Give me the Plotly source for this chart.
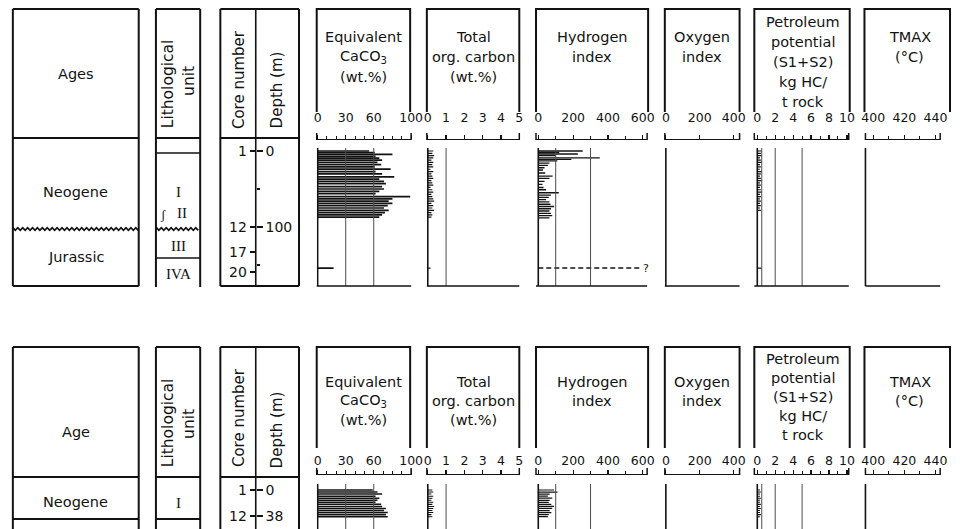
import numpy as np
import plotly.graph_objects as go

# ================= DATA =================
# ---- upper section ----
top_caco3_depth = [0, 2, 4.5, 7, 9.5, 12, 15, 18, 21, 24, 27, 30, 34, 37, 40, 43, 47, 50, 53, 56,
                   60, 63, 66, 69, 72, 75, 78, 81, 84, 87, 154]
top_caco3 = [55, 61, 80, 62, 66, 69, 64, 68, 61, 78, 62, 69, 82, 66, 71, 73, 69, 71, 66, 62,
             99, 80, 76, 80, 75, 71, 76, 72, 69, 66, 17]

top_toc_depth = [0, 3, 6, 9, 12, 15, 18, 21, 24, 27, 30, 33, 36, 39, 42, 45, 48, 51, 54, 57,
                 60, 63, 66, 69, 72, 75, 78, 81, 84, 87, 154]
top_toc = [0.3, 0.25, 0.35, 0.3, 0.2, 0.3, 0.25, 0.3, 0.15, 0.3, 0.2, 0.25, 0.3, 0.2, 0.25, 0.3,
           0.15, 0.25, 0.3, 0.2, 0.25, 0.3, 0.35, 0.2, 0.3, 0.25, 0.35, 0.2, 0.25, 0.2, 0.15]

top_hi_depth = [0, 2, 4, 6, 9, 11, 13, 16, 19, 22, 25, 29, 33, 36, 40, 44, 48, 51, 55, 58,
                61, 64, 67, 70, 73, 76, 79, 82, 85, 88]
top_hi = [255, 120, 227, 100, 353, 190, 109, 64, 55, 36, 27, 40, 82, 64, 36, 24, 30, 45, 118, 73,
          60, 45, 64, 70, 91, 73, 64, 73, 80, 64]
top_hi_uncertain_depth = 154   # dashed "?" level
top_hi_uncertain_value = 580

top_pp_depth = [0, 3, 6, 9, 12, 15, 18, 21, 24, 27, 30, 33, 36, 39, 42, 45, 48, 51, 54, 57,
                60, 63, 66, 69, 72, 75, 78, 154]
top_pp = [0.5, 0.4, 0.5, 0.3, 0.4, 0.5, 0.3, 0.4, 0.3, 0.5, 0.4, 0.3, 0.4, 0.5, 0.3, 0.4,
          0.3, 0.4, 0.5, 0.3, 0.4, 0.3, 0.4, 0.3, 0.4, 0.3, 0.4, 0.5]

top_core_depth = [0, 100, 133, 159]
top_core_label = ["1", "12", "17", "20"]
top_depth_ticks = [0, 100]
top_depth_minor = [50, 150]

# ---- lower section ----
bot_depth = [0, 3, 6, 9, 12, 15, 18, 21, 24, 27, 30, 33, 36, 39]
bot_caco3 = [59, 64, 69, 62, 66, 64, 62, 68, 69, 73, 71, 75, 73, 75]
bot_toc = [0.25, 0.3, 0.2, 0.3, 0.25, 0.2, 0.3, 0.25, 0.35, 0.3, 0.25, 0.3, 0.2, 0.25]
bot_hi = [90, 110, 65, 55, 80, 65, 60, 75, 90, 80, 65, 75, 60, 55]
bot_pp = [0.3, 0.4, 0.3, 0.3, 0.4, 0.3, 0.3, 0.4, 0.3, 0.4, 0.3, 0.3, 0.4, 0.3]

bot_core_depth = [0, 38]
bot_core_label = ["1", "12"]
bot_depth_ticks = [0, 38]

# ---- axes ticks / titles ----
caco3_ticks = [0, 30, 60, 100]
toc_ticks = [0, 1, 2, 3, 4, 5]
hi_ticks = [0, 200, 400, 600]
oxy_ticks = [0, 200, 400]
pp_ticks = [0, 2, 4, 6, 8, 10]
tmax_ticks = [400, 420, 440]

caco3_grid = [30, 60]
toc_grid = [1]
hi_grid = [100, 300]
pp_grid = [0.5, 2, 5]

caco3_title = ["Equivalent", "CaCO<sub>3</sub>", "(wt.%)"]
toc_title = ["Total", "org. carbon", "(wt.%)"]
hi_title = ["Hydrogen", "index"]
oxy_title = ["Oxygen", "index"]
pp_title = ["Petroleum", "potential", "(S1+S2)", "kg HC/", "t rock"]
tmax_title = ["TMAX", "(°C)"]

# ================= LAYOUT HELPERS =================
W, H = 963, 529
INK = "#121212"
GRID = "#4d4d4d"
SANS = "DejaVu Sans"
SERIF = "Liberation Serif"


def fx(x):
    return x / W


def fy(y):
    return 1 - y / H


shapes = []
annotations = []


def line(x0, y0, x1, y1, w=2.0, color=INK):
    shapes.append(dict(type="line", xref="paper", yref="paper",
                       x0=fx(x0), y0=fy(y0), x1=fx(x1), y1=fy(y1),
                       line=dict(color=color, width=w)))


def text(x, y, s, size=14, angle=0, family=SANS):
    annotations.append(dict(xref="paper", yref="paper", x=fx(x), y=fy(y), text=s,
                            showarrow=False, textangle=angle,
                            font=dict(family=family, size=size, color=INK),
                            xanchor="center", yanchor="middle"))


def wavy(x0, x1, y):
    xs = np.arange(x0, x1 + 0.1, 2.5)
    pts = []
    for i, xv in enumerate(xs):
        yv = y + (1.3 if i % 2 else -1.3)
        pts.append(f"{fx(xv):.5f},{fy(yv):.5f}")
    path = "M " + " L ".join(pts)
    shapes.append(dict(type="path", xref="paper", yref="paper", path=path,
                       line=dict(color=INK, width=1.8)))


panels = [
    dict(x0=318, x1=414, rng=[-1, 100], ticks=caco3_ticks, minor=10, grid=caco3_grid,
         hx0=318, hx1=413, cx=366, title=caco3_title),
    dict(x0=430, x1=524, rng=[-0.05, 5.0], ticks=toc_ticks, minor=None, grid=toc_grid,
         hx0=430, hx1=524, cx=477, title=toc_title),
    dict(x0=541, x1=654, rng=[-13, 625], ticks=hi_ticks, minor=100, grid=hi_grid,
         hx0=541, hx1=655, cx=598, title=hi_title),
    dict(x0=672, x1=748, rng=[-6, 435], ticks=oxy_ticks, minor=None, grid=[],
         hx0=672, hx1=748, cx=710, title=oxy_title),
    dict(x0=763, x1=859, rng=[-0.33, 10.2], ticks=pp_ticks, minor=1, grid=pp_grid,
         hx0=763, hx1=860, cx=813, title=pp_title),
    dict(x0=876, x1=952, rng=[395, 443], ticks=tmax_ticks, minor=10, grid=[],
         hx0=875, hx1=962, cx=921, title=tmax_title),
]

sections = [
    dict(box_top=9, head_bot=138, side_end=112, axis_y=140, data_top=148, data_bot=286,
         d0=151, ppm=0.76, t0=37, t0pp=22, dt=20, standoff=8, bottom_line=True,
         series=[(top_caco3_depth, top_caco3, 2.3), (top_toc_depth, top_toc, 1.6),
                 (top_hi_depth, top_hi, 1.8), None, (top_pp_depth, top_pp, 1.6), None],
         core_depth=top_core_depth, core_label=top_core_label,
         depth_ticks=top_depth_ticks, depth_minor=top_depth_minor, age_label="Ages"),
    dict(box_top=347, head_bot=477, side_end=448, axis_y=475, data_top=484, data_bot=529,
         d0=490, ppm=0.684, t0=382, t0pp=359, dt=19, standoff=0, bottom_line=False,
         series=[(bot_depth, bot_caco3, 2.2), (bot_depth, bot_toc, 1.5),
                 (bot_depth, bot_hi, 1.8), None, (bot_depth, bot_pp, 1.5), None],
         core_depth=bot_core_depth, core_label=bot_core_label,
         depth_ticks=bot_depth_ticks, depth_minor=[], age_label="Age"),
]

fig = go.Figure()
layout_axes = {}

for si, sec in enumerate(sections):
    ymain = "y" if si == 0 else "y2"
    ycore = "y3" if si == 0 else "y4"
    yrange = [(sec["data_bot"] - sec["d0"]) / sec["ppm"], (sec["axis_y"] - sec["d0"]) / sec["ppm"]]
    ydom = [max(0.0, fy(sec["data_bot"])), fy(sec["axis_y"])]
    tickfont = dict(family=SANS, size=14, color=INK)
    layout_axes["yaxis" if si == 0 else "yaxis2"] = dict(
        domain=ydom, range=yrange, anchor="free", position=fx(256), side="right",
        tickmode="array", tickvals=sec["depth_ticks"], ticks="outside", ticklen=6,
        tickwidth=1.5, tickcolor=INK, showline=False, showgrid=False, zeroline=False,
        tickfont=tickfont,
        minor=dict(tickmode="array", tickvals=sec["depth_minor"], ticks="outside",
                   ticklen=3, tickwidth=1.2, tickcolor=INK, showgrid=False))
    layout_axes["yaxis3" if si == 0 else "yaxis4"] = dict(
        overlaying=ymain, range=yrange, anchor="free", position=fx(256), side="left",
        tickmode="array", tickvals=sec["core_depth"], ticktext=sec["core_label"],
        ticks="outside", ticklen=6, tickwidth=1.5, tickcolor=INK, showline=False,
        showgrid=False, zeroline=False, tickfont=tickfont)

    bt, hb = sec["box_top"], sec["head_bot"]
    # ---- age column ----
    line(9, bt, 137, bt)
    line(9, bt, 9, sec["data_bot"])
    line(137, bt, 137, sec["data_bot"])
    line(9, hb, 137, hb)
    # ---- lithology column ----
    line(154.5, bt, 199.5, bt)
    line(154.5, bt, 154.5, sec["data_bot"] + 1)
    line(199.5, bt, 199.5, sec["data_bot"] + 1)
    line(154.5, hb, 199.5, hb)
    # ---- core / depth column ----
    line(220, bt, 300, bt)
    line(220, bt, 220, sec["data_bot"])
    line(300, bt, 300, sec["data_bot"])
    line(256, bt, 256, sec["data_bot"], w=1.6)
    line(220, hb, 300, hb)
    if sec["bottom_line"]:
        line(9, sec["data_bot"], 137, sec["data_bot"])
        line(220, sec["data_bot"], 300, sec["data_bot"])

    text(73, (bt + hb) / 2 + (0 if si == 0 else 20), sec["age_label"], size=14.5)
    text(167, hb - 54 if si == 0 else hb - 54, "Lithological", size=15.5, angle=-90)
    text(188, hb - 57 if si == 0 else hb - 53, "unit", size=15.5, angle=-90)
    text(239, hb - 58 if si == 0 else hb - 59, "Core number", size=15, angle=-90)
    text(278, hb - 48 if si == 0 else hb - 47, "Depth (m)", size=15, angle=-90)

    for pi, p in enumerate(panels):
        n = si * 6 + pi + 1
        xname = "x" if n == 1 else f"x{n}"
        xkey = "xaxis" if n == 1 else f"xaxis{n}"
        ax = dict(domain=[fx(p["x0"]), fx(p["x1"])], range=p["rng"], anchor=ymain, side="top",
                  showline=True, linewidth=1.5, linecolor=INK, mirror=False,
                  tickmode="array", tickvals=p["ticks"], ticks="outside", ticklen=4,
                  tickwidth=1.2, tickcolor=INK, showgrid=False, zeroline=False,
                  ticklabelstandoff=sec["standoff"],
                  tickfont=dict(family=SANS, size=12.5, color=INK))
        if p["minor"]:
            ax["minor"] = dict(dtick=p["minor"], ticks="outside", ticklen=3, tickwidth=1,
                               tickcolor=INK, showgrid=False)
        layout_axes[xkey] = ax

        # bracket end ticks
        for xd in (0, 1):
            shapes.append(dict(type="line", xref=f"{xname} domain", yref="paper",
                               x0=xd, x1=xd, y0=fy(sec["axis_y"]), y1=fy(sec["axis_y"] - 7),
                               line=dict(color=INK, width=1.5)))
        # header box (open at bottom)
        path = (f"M {fx(p['hx0'])},{fy(sec['side_end'])} L {fx(p['hx0'])},{fy(bt)} "
                f"L {fx(p['hx1'])},{fy(bt)} L {fx(p['hx1'])},{fy(sec['side_end'])}")
        shapes.append(dict(type="path", xref="paper", yref="paper", path=path,
                           line=dict(color=INK, width=2)))
        # header title
        t0 = sec["t0pp"] if len(p["title"]) > 3 else sec["t0"]
        for li, s in enumerate(p["title"]):
            text(p["cx"], t0 + li * sec["dt"], s, size=14.5)

        # data-area frame: left line, gridlines, bottom line
        if pi == 5:
            shapes.append(dict(type="line", xref=f"{xname} domain", yref="paper", x0=0, x1=0,
                               y0=fy(sec["data_top"]), y1=fy(sec["data_bot"]),
                               line=dict(color=INK, width=1.6)))
        else:
            shapes.append(dict(type="line", xref=xname, yref="paper", x0=0, x1=0,
                               y0=fy(sec["data_top"]), y1=fy(sec["data_bot"]),
                               line=dict(color=INK, width=1.6)))
        for g in p["grid"]:
            shapes.append(dict(type="line", xref=xname, yref="paper", x0=g, x1=g,
                               y0=fy(sec["data_top"]), y1=fy(sec["data_bot"]),
                               line=dict(color=GRID, width=1)))
        if sec["bottom_line"]:
            shapes.append(dict(type="line", xref=f"{xname} domain", yref="paper", x0=0, x1=1,
                               y0=fy(sec["data_bot"]), y1=fy(sec["data_bot"]),
                               line=dict(color=INK, width=1.6)))

        s = sec["series"][pi]
        if s is not None:
            dep, val, bw = s
            fig.add_trace(go.Bar(orientation="h", y=dep, x=val, width=bw,
                                 marker=dict(color=INK, line=dict(width=0)),
                                 xaxis=xname, yaxis=ymain, showlegend=False,
                                 hoverinfo="skip"))
        else:
            fig.add_trace(go.Scatter(x=[None], y=[None], xaxis=xname, yaxis=ymain,
                                     showlegend=False, hoverinfo="skip"))

    # invisible trace for core-label axis
    fig.add_trace(go.Scatter(x=[None], y=[None], xaxis="x" if si == 0 else "x7",
                             yaxis=ycore, showlegend=False, hoverinfo="skip"))

# ---- upper section lithology / ages details ----
line(154.5, 153, 199.5, 153, w=1.4)
line(154.5, 258, 199.5, 258, w=1.4)
wavy(9, 137, 229)
wavy(155, 199, 229)
text(73, 192, "Neogene", size=14.5)
text(73, 257, "Jurassic", size=14.5)
text(177, 192, "I", size=15, family=SERIF)
text(181, 213, "II", size=15, family=SERIF)
text(162, 214, "ʃ", size=13, family=SERIF)
text(177, 246, "III", size=15, family=SERIF)
text(177, 274, "IVA", size=15, family=SERIF)

# HI uncertain (dashed) level in Jurassic
fig.add_trace(go.Scatter(x=[0, top_hi_uncertain_value],
                         y=[top_hi_uncertain_depth, top_hi_uncertain_depth],
                         mode="lines", line=dict(color=INK, width=1.4, dash="5px,3px"),
                         xaxis="x3", yaxis="y", showlegend=False, hoverinfo="skip"))
annotations.append(dict(xref="x3", yref="y", x=top_hi_uncertain_value + 8,
                        y=top_hi_uncertain_depth, text="?", showarrow=False,
                        xanchor="left", yanchor="middle",
                        font=dict(family=SANS, size=11, color=INK)))

# ---- lower section ----
line(9, 519, 137, 519)
line(154.5, 519, 199.5, 519)
text(73, 502, "Neogene", size=14.5)
text(177, 503, "I", size=15, family=SERIF)

fig.update_layout(
    width=W, height=H, autosize=False,
    margin=dict(l=0, r=0, t=0, b=0, pad=0),
    paper_bgcolor="white", plot_bgcolor="rgba(0,0,0,0)",
    barmode="overlay", showlegend=False, hovermode=False,
    shapes=shapes, annotations=annotations,
    font=dict(family=SANS, color=INK),
    **layout_axes,
)

fig.write_html("out.html",
               config={"displayModeBar": False, "staticPlot": True},
               post_script="document.body.style.margin='0';"
                           "document.body.style.overflow='hidden';")
